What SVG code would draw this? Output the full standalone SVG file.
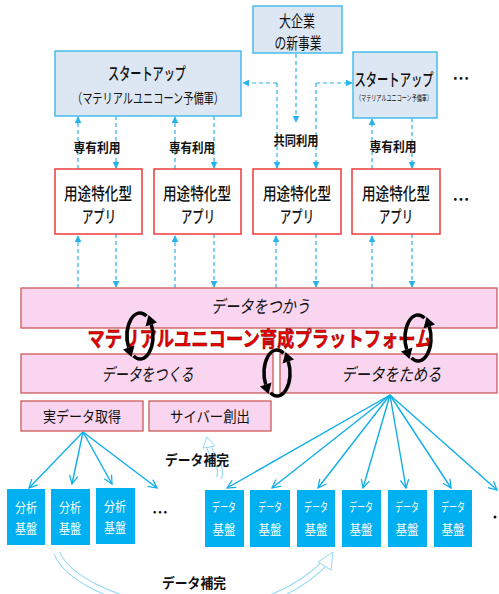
<svg xmlns="http://www.w3.org/2000/svg" width="499" height="594" viewBox="0 0 499 594">
<defs>
<style>
text{font-family:"Noto Sans CJK JP","Noto Sans",sans-serif;fill:#111;text-anchor:middle;dominant-baseline:central}
.sb{fill:#dde7f3;stroke:#45bdee;stroke-width:1.5}
.app{fill:#fff;stroke:#f03a3a;stroke-width:1.5}
.pf{fill:#f9d5f0;stroke:#cc5a5a;stroke-width:1.3}
.blue{fill:#00b0f0}
.wt{fill:#fff}
.dash{stroke:#29b3ec;stroke-width:1.2;stroke-dasharray:4 3;fill:none}
.fan{stroke:#10aee9;stroke-width:1.4;fill:none;marker-end:url(#open)}
.cyc{fill:none;stroke:#000;stroke-width:3.5}
.red{fill:#ee0000}
</style>
<marker id="tri" viewBox="0 0 10 10" refX="9" refY="5" markerWidth="7" markerHeight="7" markerUnits="userSpaceOnUse" orient="auto"><path d="M0,0L10,5L0,10z" fill="#29b3ec"/></marker>
<marker id="open" viewBox="0 0 12 12" refX="11" refY="6" markerWidth="10" markerHeight="10" markerUnits="userSpaceOnUse" orient="auto"><path d="M1,1L11,6L1,11" fill="none" stroke="#10aee9" stroke-width="1.5"/></marker>
<g id="cycle">
<path class="cyc" d="M6.5,-19.9 A13,23 0 0 0 -11.3,11.5"/>
<path class="cyc" d="M-6.5,19.9 A13,23 0 0 0 11.3,-11.5"/>
<polygon points="-5.5,9.5 -17,13.4 -8.5,21" fill="#000"/>
<polygon points="5.5,-9.5 17,-13.4 8.5,-21" fill="#000"/>
</g>
</defs>
<rect width="499" height="594" fill="#fff"/>

<!-- connectors -->
<g id="connectors">
<g class="dash" marker-end="url(#tri)">
<path d="M78,169V117"/><path d="M116,116V168"/>
<path d="M175,169V117"/><path d="M214,116V168"/>
<path d="M78,288V236"/><path d="M116,234V287"/>
<path d="M175,288V236"/><path d="M214,234V287"/>
<path d="M276,288V236"/><path d="M316,234V287"/>
<path d="M372,288V236"/><path d="M412,234V287"/>
<path d="M372,169V119"/><path d="M412,118V168"/>
<path d="M296,54V122"/>
<path d="M277,83H243"/><path d="M316,83H352"/>
<path d="M277,83V168"/><path d="M316,83V168"/>
</g>
<g class="fan">
<path d="M83,432L29,488"/><path d="M83,432L72,484"/><path d="M83,432L112,484"/><path d="M83,432L157,488"/>
<path d="M390,395L227,488"/><path d="M390,395L272,488"/><path d="M390,395L318,488"/><path d="M390,395L363,488"/><path d="M390,395L406,488"/><path d="M390,395L451,488"/><path d="M390,395L497,490"/>
</g>
<g fill="none">
<path d="M219,478 C224,465 210,455 209,446" stroke="#8fd8f5" stroke-width="6"/>
<path d="M219,478 C224,465 210,455 209,446" stroke="#fff" stroke-width="4"/>
<path d="M203,448 L207,437 L215,446 Z" fill="#fff" stroke="#8fd8f5" stroke-width="1"/>
<path d="M57,553 C75,600 240,650 326,562" stroke="#8fd8f5" stroke-width="7"/>
<path d="M57,553 C75,600 240,650 326,562" stroke="#fff" stroke-width="5"/>
<path d="M318,562 L333,552 L331,570 Z" fill="#fff" stroke="#8fd8f5" stroke-width="1"/>
</g>
</g>

<!-- top nodes -->
<g id="bigco"><rect class="sb" x="253" y="6" width="89" height="47"/>
<text x="297" y="20" font-size="16" textLength="36" lengthAdjust="spacingAndGlyphs">大企業</text>
<text x="298" y="42" font-size="16" textLength="47" lengthAdjust="spacingAndGlyphs">の新事業</text></g>

<g id="startup1"><rect class="sb" x="55" y="51" width="186" height="65"/>
<text x="147" y="72" font-size="17" font-weight="500" textLength="78" lengthAdjust="spacingAndGlyphs">スタートアップ</text>
<text x="148" y="97" font-size="14" textLength="152" lengthAdjust="spacingAndGlyphs">（マテリアルユニコーン予備軍）</text></g>

<g id="startup2"><rect class="sb" x="353" y="52" width="84" height="66"/>
<text x="394" y="78" font-size="17" font-weight="500" textLength="79" lengthAdjust="spacingAndGlyphs">スタートアップ</text>
<text x="394" y="97" font-size="8" textLength="76" lengthAdjust="spacingAndGlyphs">（マテリアルユニコーン予備軍）</text></g>
<g id="more1"><text x="461" y="77" font-size="17" font-weight="bold">…</text></g>

<g id="labels-use">
<text x="97" y="146" font-size="13" font-weight="bold" textLength="47" lengthAdjust="spacingAndGlyphs">専有利用</text>
<text x="192" y="146" font-size="13" font-weight="bold" textLength="46" lengthAdjust="spacingAndGlyphs">専有利用</text>
<text x="296" y="139" font-size="13" font-weight="bold" textLength="45" lengthAdjust="spacingAndGlyphs">共同利用</text>
<text x="393" y="145" font-size="13" font-weight="bold" textLength="47" lengthAdjust="spacingAndGlyphs">専有利用</text>
</g>

<!-- apps -->
<g id="app1"><rect class="app" x="55" y="169" width="87" height="65"/>
<text x="98" y="192" font-size="17" font-weight="500" textLength="68" lengthAdjust="spacingAndGlyphs">用途特化型</text>
<text x="99" y="215" font-size="17" font-weight="500" textLength="34" lengthAdjust="spacingAndGlyphs">アプリ</text></g>
<g id="app2"><rect class="app" x="154" y="169" width="87" height="65"/>
<text x="197" y="192" font-size="17" font-weight="500" textLength="68" lengthAdjust="spacingAndGlyphs">用途特化型</text>
<text x="198" y="215" font-size="17" font-weight="500" textLength="34" lengthAdjust="spacingAndGlyphs">アプリ</text></g>
<g id="app3"><rect class="app" x="253" y="169" width="88" height="65"/>
<text x="297" y="192" font-size="17" font-weight="500" textLength="68" lengthAdjust="spacingAndGlyphs">用途特化型</text>
<text x="297" y="215" font-size="17" font-weight="500" textLength="34" lengthAdjust="spacingAndGlyphs">アプリ</text></g>
<g id="app4"><rect class="app" x="352" y="169" width="88" height="65"/>
<text x="396" y="192" font-size="17" font-weight="500" textLength="68" lengthAdjust="spacingAndGlyphs">用途特化型</text>
<text x="396" y="215" font-size="17" font-weight="500" textLength="34" lengthAdjust="spacingAndGlyphs">アプリ</text></g>
<g id="more2"><text x="461" y="198" font-size="17" font-weight="bold">…</text></g>

<!-- platform -->
<g id="use-band"><rect class="pf" x="21" y="288" width="476" height="40"/>
<text transform="translate(262,305) skewX(-12)" font-size="18" textLength="99" lengthAdjust="spacingAndGlyphs">データをつかう</text></g>
<g id="make-band"><rect class="pf" x="21" y="354" width="252" height="39"/>
<text transform="translate(149,373) skewX(-12)" font-size="18" textLength="92" lengthAdjust="spacingAndGlyphs">データをつくる</text></g>
<g id="store-band"><rect class="pf" x="280" y="354" width="217" height="39"/>
<text transform="translate(393,373) skewX(-12)" font-size="18" textLength="100" lengthAdjust="spacingAndGlyphs">データをためる</text></g>
<g id="platform-title"><text class="red" x="260" y="337" font-size="21" font-weight="bold" stroke="#700" stroke-width="0.5" textLength="345" lengthAdjust="spacingAndGlyphs">マテリアルユニコーン育成プラットフォーム</text></g>
<g id="cycles">
<use href="#cycle" transform="translate(140,336)"/>
<use href="#cycle" transform="translate(277,373)"/>
<use href="#cycle" transform="translate(418,338)"/>
</g>

<g id="real"><rect class="pf" x="21" y="401" width="122" height="30"/>
<text x="82" y="415" font-size="15" textLength="78" lengthAdjust="spacingAndGlyphs">実データ取得</text></g>
<g id="cyber"><rect class="pf" x="149" y="401" width="122" height="30"/>
<text x="210" y="415" font-size="15" textLength="80" lengthAdjust="spacingAndGlyphs">サイバー創出</text></g>

<text x="197" y="459" font-size="14" font-weight="bold" textLength="64" lengthAdjust="spacingAndGlyphs">データ補完</text>
<text x="194" y="582" font-size="14" font-weight="bold" textLength="64" lengthAdjust="spacingAndGlyphs">データ補完</text>

<!-- analysis bases -->
<g id="an1"><rect class="blue" x="7" y="489" width="38" height="56"/>
<text class="wt" x="26" y="506" font-size="13" textLength="22" lengthAdjust="spacingAndGlyphs">分析</text>
<text class="wt" x="26" y="527" font-size="13" textLength="22" lengthAdjust="spacingAndGlyphs">基盤</text></g>
<g id="an2"><rect class="blue" x="51" y="489" width="39" height="56"/>
<text class="wt" x="70" y="506" font-size="13" textLength="22" lengthAdjust="spacingAndGlyphs">分析</text>
<text class="wt" x="70" y="527" font-size="13" textLength="22" lengthAdjust="spacingAndGlyphs">基盤</text></g>
<g id="an3"><rect class="blue" x="96" y="488" width="39" height="56"/>
<text class="wt" x="115" y="505" font-size="13" textLength="22" lengthAdjust="spacingAndGlyphs">分析</text>
<text class="wt" x="115" y="526" font-size="13" textLength="22" lengthAdjust="spacingAndGlyphs">基盤</text></g>
<g id="more3"><text x="160" y="511" font-size="16" font-weight="bold">…</text></g>

<!-- data bases -->
<g id="db1"><rect class="blue" x="205" y="490" width="39" height="57"/>
<text class="wt" x="224" y="506" font-size="12" textLength="24" lengthAdjust="spacingAndGlyphs">データ</text>
<text class="wt" x="224" y="528" font-size="13" textLength="23" lengthAdjust="spacingAndGlyphs">基盤</text></g>
<g id="db2"><rect class="blue" x="250" y="490" width="40" height="57"/>
<text class="wt" x="270" y="506" font-size="12" textLength="24" lengthAdjust="spacingAndGlyphs">データ</text>
<text class="wt" x="270" y="528" font-size="13" textLength="23" lengthAdjust="spacingAndGlyphs">基盤</text></g>
<g id="db3"><rect class="blue" x="297" y="490" width="38" height="57"/>
<text class="wt" x="316" y="506" font-size="12" textLength="24" lengthAdjust="spacingAndGlyphs">データ</text>
<text class="wt" x="316" y="528" font-size="13" textLength="23" lengthAdjust="spacingAndGlyphs">基盤</text></g>
<g id="db4"><rect class="blue" x="342" y="490" width="39" height="57"/>
<text class="wt" x="361" y="506" font-size="12" textLength="24" lengthAdjust="spacingAndGlyphs">データ</text>
<text class="wt" x="361" y="528" font-size="13" textLength="23" lengthAdjust="spacingAndGlyphs">基盤</text></g>
<g id="db5"><rect class="blue" x="388" y="490" width="39" height="57"/>
<text class="wt" x="407" y="506" font-size="12" textLength="24" lengthAdjust="spacingAndGlyphs">データ</text>
<text class="wt" x="407" y="528" font-size="13" textLength="23" lengthAdjust="spacingAndGlyphs">基盤</text></g>
<g id="db6"><rect class="blue" x="434" y="490" width="38" height="57"/>
<text class="wt" x="453" y="506" font-size="12" textLength="24" lengthAdjust="spacingAndGlyphs">データ</text>
<text class="wt" x="453" y="528" font-size="13" textLength="23" lengthAdjust="spacingAndGlyphs">基盤</text></g>
<g id="more4"><circle cx="495" cy="517" r="1.5" fill="#111"/></g>
</svg>
